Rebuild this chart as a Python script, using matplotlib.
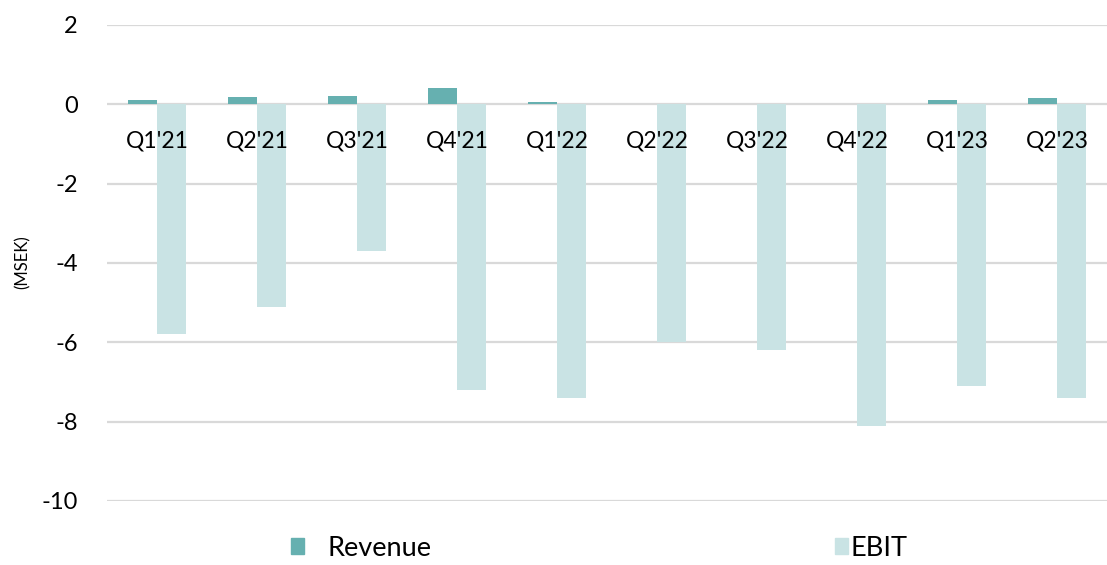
import matplotlib.pyplot as plt
import numpy as np
from matplotlib.patches import Patch

plt.rcParams['font.family'] = ['Lato', 'DejaVu Sans']

quarters = ["Q1'21", "Q2'21", "Q3'21", "Q4'21", "Q1'22",
            "Q2'22", "Q3'22", "Q4'22", "Q1'23", "Q2'23"]
revenue = [0.10, 0.18, 0.22, 0.40, 0.07, 0.01, 0.0, 0.01, 0.12, 0.17]
ebit = [-5.8, -5.1, -3.7, -7.2, -7.4, -6.0, -6.2, -8.1, -7.1, -7.4]

rev_color = '#66b0b0'
ebit_color = '#c9e3e4'

fig = plt.figure(figsize=(11.07, 5.65), dpi=100)
ax = fig.add_axes([0.0967, 0.1133, 0.9033, 0.8425])

x = np.arange(len(quarters))
w = 0.29
ax.bar(x - w / 2, revenue, width=w, color=rev_color, zorder=3)
ax.bar(x + w / 2, ebit, width=w, color=ebit_color, zorder=3)

ax.set_xlim(-0.5, len(quarters) - 0.5)
ax.set_ylim(-10, 2)
ax.set_yticks(np.arange(-10, 3, 2))
ax.set_yticklabels([str(v) for v in range(-10, 3, 2)])
ax.tick_params(axis='y', length=0, pad=21, labelsize=17)
ax.set_xticks([])
ax.grid(axis='y', color='#d9d9d9', linewidth=1.6, zorder=0)
for s in ax.spines.values():
    s.set_visible(False)

# category labels sit just under the zero line
for i, q in enumerate(quarters):
    ax.text(i, -0.92, q, ha='center', va='center', fontsize=16.5, zorder=4)

fig.text(0.02, 0.536, '(MSEK)', rotation=90, ha='center', va='center', fontsize=12)

fig.legend(handles=[Patch(color=rev_color)], labels=['Revenue'],
           loc='center left', bbox_to_anchor=(0.2405, 0.03), frameon=False,
           fontsize=19.5, handlelength=0.5, handleheight=0.5, handletextpad=0.85)
fig.legend(handles=[Patch(color=ebit_color)], labels=['EBIT'],
           loc='center left', bbox_to_anchor=(0.732, 0.03), frameon=False,
           fontsize=19.5, handlelength=0.5, handleheight=0.5, handletextpad=0.1)

fig.savefig('out.png', dpi=100)
